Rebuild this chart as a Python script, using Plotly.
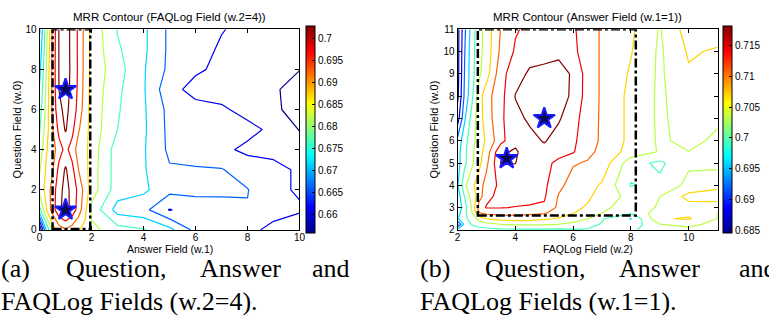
import plotly.graph_objects as go

W, H = 769, 327

# ---------------- data: panel (a) ----------------
XA = [0, 0.25, 0.5, 0.75, 1, 1.25, 1.5, 1.75, 2, 3, 4, 5, 6, 7, 8, 9, 10]
YA = [0, 1, 2, 3, 4, 5, 6, 7, 8, 9, 10]
ZA = [
    [0.652, 0.672, 0.684, 0.690, 0.692, 0.690, 0.688, 0.686, 0.684, 0.6795, 0.6780, 0.6740, 0.6660, 0.6650, 0.6640, 0.6610, 0.6600],
    [0.676, 0.687, 0.695, 0.7015, 0.7045, 0.7010, 0.695, 0.689, 0.681, 0.6705, 0.6690, 0.6622, 0.6650, 0.6655, 0.6672, 0.6645, 0.6630],
    [0.684, 0.689, 0.6945, 0.701, 0.7040, 0.7012, 0.696, 0.6905, 0.685, 0.6750, 0.6735, 0.6690, 0.6688, 0.6686, 0.6677, 0.6635, 0.6620],
    [0.682, 0.688, 0.692, 0.699, 0.7032, 0.699, 0.6925, 0.6893, 0.685, 0.6750, 0.6730, 0.6680, 0.6678, 0.6678, 0.6650, 0.6635, 0.6620],
    [0.679, 0.687, 0.690, 0.6955, 0.6988, 0.6955, 0.690, 0.689, 0.6852, 0.6750, 0.6730, 0.6665, 0.6660, 0.6635, 0.6615, 0.6615, 0.6600],
    [0.677, 0.685, 0.692, 0.699, 0.7030, 0.699, 0.693, 0.6895, 0.6855, 0.6775, 0.6733, 0.6662, 0.6650, 0.6645, 0.6638, 0.6615, 0.6573],
    [0.675, 0.684, 0.6935, 0.7015, 0.7036, 0.701, 0.6955, 0.690, 0.6856, 0.6780, 0.6732, 0.6660, 0.6640, 0.6632, 0.6610, 0.6582, 0.6560],
    [0.673, 0.683, 0.694, 0.7026, 0.7040, 0.7015, 0.6963, 0.6905, 0.6858, 0.6785, 0.6730, 0.6640, 0.6610, 0.6605, 0.6595, 0.6580, 0.6560],
    [0.671, 0.682, 0.694, 0.7028, 0.7042, 0.7016, 0.6966, 0.6908, 0.6860, 0.6795, 0.6730, 0.6663, 0.6632, 0.6615, 0.6605, 0.6590, 0.6576],
    [0.669, 0.681, 0.6938, 0.7028, 0.7042, 0.7015, 0.6965, 0.6908, 0.6860, 0.6782, 0.6735, 0.6665, 0.6640, 0.6620, 0.6610, 0.6598, 0.6585],
    [0.667, 0.680, 0.6935, 0.7028, 0.7042, 0.7015, 0.6965, 0.6910, 0.6862, 0.6772, 0.6735, 0.6665, 0.6645, 0.6627, 0.6615, 0.6605, 0.6595],
]
CLIM_A = [0.6557, 0.7029]
LEVELS_A = [0.6575, 0.7025, 0.005]
CB_TICKS_A = [0.66, 0.665, 0.67, 0.675, 0.68, 0.685, 0.69, 0.695, 0.70]
CB_TEXT_A = ["0.66", "0.665", "0.67", "0.675", "0.68", "0.685", "0.69", "0.695", "0.7"]
STARS_A_X = [1, 1]
STARS_A_Y = [7, 1]
BOX_A = [0.5, 0.05, 1.95, 10]

# ---------------- data: panel (b) ----------------
XB = [2, 2.25, 2.5, 2.75, 3, 3.5, 4, 4.5, 5, 5.5, 6, 6.5, 7, 8, 9, 10, 11]
YB = [2, 2.25, 2.5, 2.75, 3, 3.5, 4, 5, 5.5, 6, 7, 8, 9, 10, 11]
ZB = [
    [0.6975, 0.6975, 0.6980, 0.6985, 0.6985, 0.6990, 0.6990, 0.6990, 0.6990, 0.6990, 0.6995, 0.6995, 0.6995, 0.6990, 0.7020, 0.7025, 0.7020],
    [0.6890, 0.6975, 0.7000, 0.7010, 0.7020, 0.7030, 0.7035, 0.7035, 0.7035, 0.7030, 0.7020, 0.7005, 0.6995, 0.6975, 0.7030, 0.7035, 0.7025],
    [0.6960, 0.6990, 0.7010, 0.7045, 0.7065, 0.7075, 0.7078, 0.7075, 0.7070, 0.7060, 0.7050, 0.7030, 0.7000, 0.6962, 0.7060, 0.7068, 0.7030],
    [0.6950, 0.6990, 0.7030, 0.7095, 0.7105, 0.7110, 0.7110, 0.7105, 0.7100, 0.7085, 0.7065, 0.7050, 0.7030, 0.7000, 0.7050, 0.7055, 0.7030],
    [0.6935, 0.6985, 0.7035, 0.7120, 0.7133, 0.7132, 0.7130, 0.7128, 0.7126, 0.7090, 0.7072, 0.7060, 0.7040, 0.7010, 0.7035, 0.7050, 0.7045],
    [0.6945, 0.7000, 0.7045, 0.7080, 0.7125, 0.7138, 0.7140, 0.7140, 0.7135, 0.7095, 0.7078, 0.7070, 0.7050, 0.7020, 0.7030, 0.7075, 0.7080],
    [0.6960, 0.7025, 0.7055, 0.7085, 0.7110, 0.7140, 0.7145, 0.7145, 0.7138, 0.7105, 0.7085, 0.7075, 0.7060, 0.6995, 0.7005, 0.7040, 0.7055],
    [0.6950, 0.6990, 0.7025, 0.7055, 0.7090, 0.7166, 0.7165, 0.7148, 0.7138, 0.7125, 0.7100, 0.7095, 0.7085, 0.7010, 0.6990, 0.7025, 0.7020],
    [0.6950, 0.6990, 0.7025, 0.7050, 0.7080, 0.7160, 0.7168, 0.7150, 0.7155, 0.7140, 0.7134, 0.7105, 0.7090, 0.7050, 0.7028, 0.7030, 0.7020],
    [0.6940, 0.6985, 0.7020, 0.7045, 0.7070, 0.7120, 0.7158, 0.7155, 0.7167, 0.7152, 0.7138, 0.7110, 0.7093, 0.7055, 0.7026, 0.7038, 0.7025],
    [0.6880, 0.6960, 0.7010, 0.7050, 0.7080, 0.7125, 0.7155, 0.7170, 0.7178, 0.7168, 0.7145, 0.7112, 0.7093, 0.7055, 0.7025, 0.7045, 0.7035],
    [0.6855, 0.6940, 0.6990, 0.7050, 0.7085, 0.7120, 0.7166, 0.7175, 0.7178, 0.7175, 0.7160, 0.7115, 0.7093, 0.7055, 0.7025, 0.7050, 0.7050],
    [0.6850, 0.6935, 0.6985, 0.7025, 0.7050, 0.7120, 0.7150, 0.7170, 0.7172, 0.7172, 0.7162, 0.7115, 0.7093, 0.7060, 0.7025, 0.7060, 0.7055],
    [0.6850, 0.6930, 0.6985, 0.7020, 0.7045, 0.7105, 0.7135, 0.7150, 0.7155, 0.7160, 0.7138, 0.7115, 0.7093, 0.7066, 0.7025, 0.7068, 0.7060],
    [0.6850, 0.6925, 0.6980, 0.7020, 0.7045, 0.7100, 0.7128, 0.7138, 0.7142, 0.7142, 0.7135, 0.7115, 0.7093, 0.7070, 0.7028, 0.7080, 0.7080],
]
CLIM_B = [0.6846, 0.7181]
LEVELS_B = [0.6863, 0.7165, 0.00335]
CB_TICKS_B = [0.685, 0.69, 0.695, 0.70, 0.705, 0.71, 0.715]
CB_TEXT_B = ["0.685", "0.69", "0.695", "0.7", "0.705", "0.71", "0.715"]
STARS_B_X = [5, 3.7]
STARS_B_Y = [7, 5.2]
BOX_B = [2.7, 2.65, 8.17, 11]

TITLE_A = "MRR Contour (FAQLog Field (w.2=4))"
TITLE_B = "MRR Contour (Answer Field (w.1=1))"
XLABEL_A = "Answer Field (w.1)"
XLABEL_B = "FAQLog Field (w.2)"
YLABEL = "Question Field (w.0)"

CAP_A1 = [("(a)", -4), ("Question,", 62), ("Answer", 197), ("and", 311)]
CAP_A2 = "FAQLog Fields (w.2=4)."
CAP_B1 = [("(b)", 420), ("Question,", 486), ("Answer", 621), ("and", 743)]
CAP_B2 = "FAQLog Fields (w.1=1)."

# MATLAB-style jet
JET = [[0.0, "rgb(0,0,143)"], [0.125, "rgb(0,0,255)"], [0.375, "rgb(0,255,255)"],
       [0.625, "rgb(255,255,0)"], [0.875, "rgb(255,0,0)"], [1.0, "rgb(128,0,0)"]]

SANS = "Liberation Sans, Arial, sans-serif"
SERIF = "Liberation Serif, Times New Roman, serif"

AX_A = (37, 300)
AX_B = (460, 723)
AX_TOP, AX_BOT = 25, 232


def px(v):
    return v / W


def py(v):
    return 1 - v / H


fig = go.Figure()


def add_panel(xs, ys, zs, clim, lev, xa, ya, cbx, ticks, ticktext, sx, sy):
    fig.add_trace(go.Contour(
        x=xs, y=ys, z=zs, xaxis=xa, yaxis=ya,
        colorscale=JET, zmin=clim[0], zmax=clim[1], zauto=False,
        contours=dict(coloring="lines", start=lev[0], end=lev[1], size=lev[2]),
        line=dict(width=1.2, smoothing=0), showscale=False, hoverinfo="skip",
    ))
    fig.add_trace(go.Scatter(
        x=[-100, -100], y=[-100, -100], mode="markers", xaxis=xa, yaxis=ya,
        marker=dict(color=clim, colorscale=JET, cmin=clim[0], cmax=clim[1], size=1,
                    showscale=True,
                    colorbar=dict(x=px(cbx), xanchor="left", y=py((AX_TOP + AX_BOT) / 2),
                                  yanchor="middle", len=AX_BOT - AX_TOP, lenmode="pixels",
                                  thickness=9, thicknessmode="pixels", outlinewidth=1,
                                  outlinecolor="black", tickvals=ticks, ticktext=ticktext,
                                  ticks="inside", ticklen=3, tickcolor="black",
                                  tickfont=dict(family=SANS, size=10, color="black"),
                                  xpad=0, ypad=0)),
        showlegend=False, hoverinfo="skip",
    ))
    fig.add_trace(go.Scatter(
        x=sx, y=sy, mode="markers", xaxis=xa, yaxis=ya,
        marker=dict(symbol="star", size=16, color="#0a0a55", line=dict(color="#1a1aff", width=2)),
        showlegend=False, hoverinfo="skip",
    ))


add_panel(XA, YA, ZA, CLIM_A, LEVELS_A, "x", "y", 307, CB_TICKS_A, CB_TEXT_A, STARS_A_X, STARS_A_Y)
add_panel(XB, YB, ZB, CLIM_B, LEVELS_B, "x2", "y2", 729, CB_TICKS_B, CB_TEXT_B, STARS_B_X, STARS_B_Y)

axis_common = dict(showline=True, linecolor="black", linewidth=1, mirror="allticks",
                   ticks="inside", ticklen=4, tickcolor="black", showgrid=False,
                   zeroline=False, tickfont=dict(family=SANS, size=10, color="black"))

fig.update_layout(
    width=W, height=H, margin=dict(l=0, r=0, t=0, b=0),
    paper_bgcolor="white", plot_bgcolor="white", showlegend=False,
    xaxis=dict(domain=[px(AX_A[0]), px(AX_A[1])], range=[0, 10], tickvals=[0, 2, 4, 6, 8, 10],
               anchor="y", ticklabelstandoff=-2, **axis_common),
    yaxis=dict(domain=[py(AX_BOT), py(AX_TOP)], range=[0, 10], tickvals=[0, 2, 4, 6, 8, 10],
               anchor="x", **axis_common),
    xaxis2=dict(domain=[px(AX_B[0]), px(AX_B[1])], range=[2, 11], tickvals=[2, 4, 6, 8, 10],
                anchor="y2", ticklabelstandoff=-2, **axis_common),
    yaxis2=dict(domain=[py(AX_BOT), py(AX_TOP)], range=[2, 11],
                tickvals=[2, 3, 4, 5, 6, 7, 8, 9, 10, 11], anchor="x2", **axis_common),
)

for box, xr, yr in [(BOX_A, "x", "y"), (BOX_B, "x2", "y2")]:
    fig.add_shape(type="rect", xref=xr, yref=yr, x0=box[0], y0=box[1], x1=box[2], y1=box[3],
                  line=dict(color="black", width=2.5, dash="dashdot"), layer="above")

ann = []


def note(x, y, text, size, family, xanchor="center", angle=0):
    ann.append(dict(x=px(x), y=py(y), xref="paper", yref="paper", text=text, showarrow=False,
                    xanchor=xanchor, yanchor="middle", textangle=angle,
                    font=dict(family=family, size=size, color="black")))


for cx, t in [((AX_A[0] + AX_A[1]) / 2, TITLE_A), ((AX_B[0] + AX_B[1]) / 2, TITLE_B)]:
    note(cx, 12, t, 11.5, SANS)
for cx, t in [((AX_A[0] + AX_A[1]) / 2, XLABEL_A), ((AX_B[0] + AX_B[1]) / 2, XLABEL_B)]:
    note(cx, 252, t, 10.5, SANS)
for cx in [14, 436]:
    note(cx, (AX_TOP + AX_BOT) / 2, YLABEL, 11, SANS, angle=-90)
for words in (CAP_A1, CAP_B1):
    for t, x0 in words:
        note(x0, 272, t, 26, SERIF, xanchor="left")
for t, x0 in [(CAP_A2, -4), (CAP_B2, 420)]:
    note(x0, 306, t, 26, SERIF, xanchor="left")

fig.update_layout(annotations=ann)
fig.write_html("out.html", config={"displayModeBar": False},
               post_script="document.body.style.margin='0';document.body.style.overflow='hidden';")
